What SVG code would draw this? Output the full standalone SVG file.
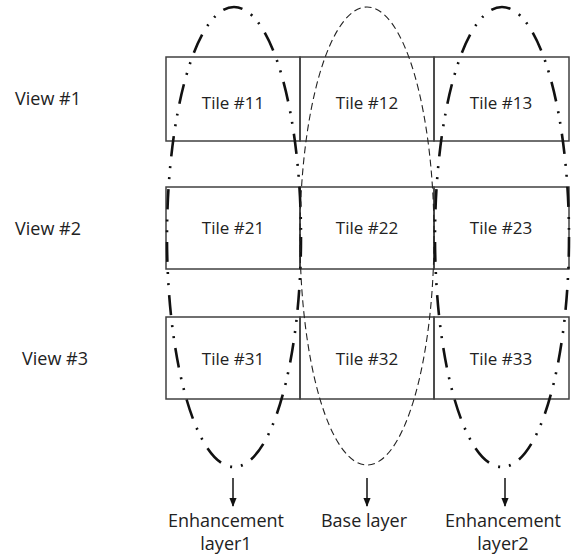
<svg xmlns="http://www.w3.org/2000/svg" width="573" height="558" viewBox="0 0 573 558">
<defs>
<style>
.tile{fill:none;stroke:#404040;stroke-width:1.5}
.t{font-family:"Open Sans","Liberation Sans",Arial,sans-serif;font-size:17px;fill:#222;text-anchor:middle}
.lbl{font-family:"Open Sans","Liberation Sans",Arial,sans-serif;font-size:18px;fill:#222}
.enh{fill:none;stroke:#111;stroke-width:2.6;stroke-dasharray:20 10 2 9 2 10}
.base{fill:none;stroke:#222;stroke-width:1.1;stroke-dasharray:7 4}
.arr{stroke:#111;stroke-width:1.5;fill:none}
</style>
<marker id="ah" viewBox="0 0 10 10" refX="9" refY="5" markerWidth="6" markerHeight="6" orient="auto">
<path d="M0,1 L10,5 L0,9 z" fill="#111"/>
</marker>
</defs>
<rect width="573" height="558" fill="#fff"/>
<g id="view1"><text class="lbl" x="15" y="105">View #1</text></g>
<g id="view2"><text class="lbl" x="15" y="235">View #2</text></g>
<g id="view3"><text class="lbl" x="22" y="365">View #3</text></g>
<g id="tile11"><rect class="tile" x="166" y="57" width="134" height="84"/><text class="t" x="233" y="109">Tile #11</text></g>
<g id="tile12"><rect class="tile" x="300" y="57" width="134" height="84"/><text class="t" x="367" y="109">Tile #12</text></g>
<g id="tile13"><rect class="tile" x="434" y="57" width="135" height="84"/><text class="t" x="501" y="109">Tile #13</text></g>
<g id="tile21"><rect class="tile" x="166" y="187" width="134" height="82"/><text class="t" x="233" y="234">Tile #21</text></g>
<g id="tile22"><rect class="tile" x="300" y="187" width="134" height="82"/><text class="t" x="367" y="234">Tile #22</text></g>
<g id="tile23"><rect class="tile" x="434" y="187" width="135" height="82"/><text class="t" x="501" y="234">Tile #23</text></g>
<g id="tile31"><rect class="tile" x="166" y="317" width="134" height="82"/><text class="t" x="233" y="365">Tile #31</text></g>
<g id="tile32"><rect class="tile" x="300" y="317" width="134" height="82"/><text class="t" x="367" y="365">Tile #32</text></g>
<g id="tile33"><rect class="tile" x="434" y="317" width="135" height="82"/><text class="t" x="501" y="365">Tile #33</text></g>
<g id="enh1"><ellipse class="enh" cx="234" cy="237" rx="67" ry="230"/></g>
<g id="base"><ellipse class="base" cx="367" cy="236" rx="67" ry="229"/></g>
<g id="enh2"><ellipse class="enh" cx="502" cy="237" rx="67" ry="230"/></g>
<g id="connectors">
<line class="arr" x1="233" y1="478" x2="233" y2="506" marker-end="url(#ah)"/>
<line class="arr" x1="367" y1="478" x2="367" y2="506" marker-end="url(#ah)"/>
<line class="arr" x1="505" y1="478" x2="505" y2="506" marker-end="url(#ah)"/>
</g>
<g id="label-enh1"><text class="lbl" text-anchor="middle" x="226" y="527">Enhancement</text><text class="lbl" text-anchor="middle" x="226" y="550">layer1</text></g>
<g id="label-base"><text class="lbl" text-anchor="middle" x="364" y="527">Base layer</text></g>
<g id="label-enh2"><text class="lbl" text-anchor="middle" x="503" y="527">Enhancement</text><text class="lbl" text-anchor="middle" x="503" y="550">layer2</text></g>
</svg>
